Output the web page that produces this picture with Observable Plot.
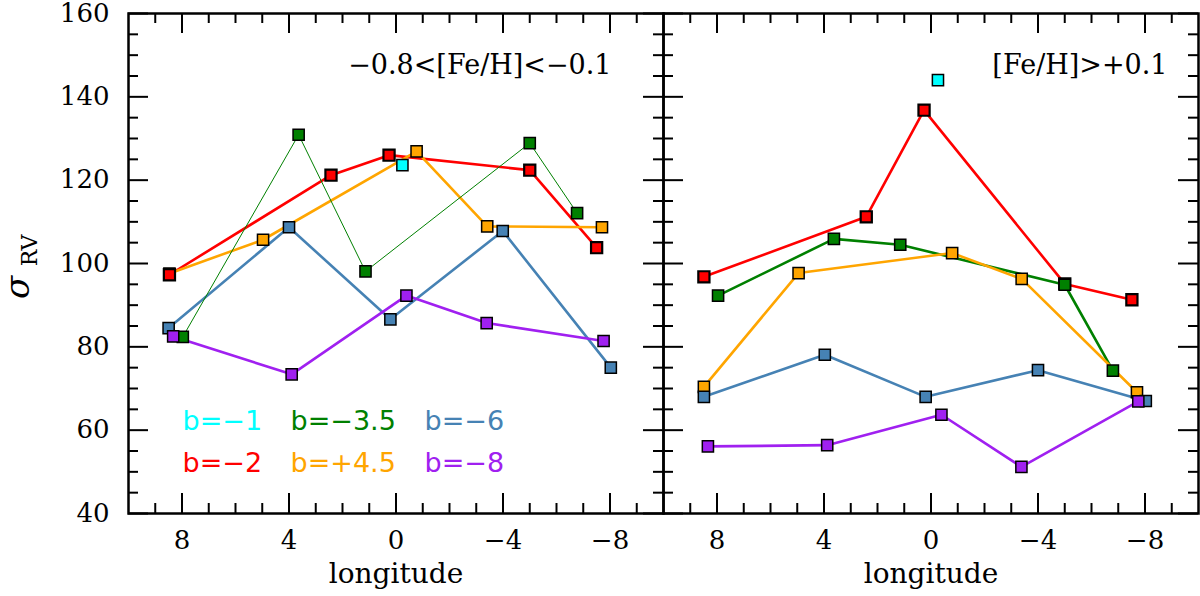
<!DOCTYPE html>
<html>
<head>
<meta charset="utf-8">
<script src="https://cdn.jsdelivr.net/npm/d3@7"></script>
<script src="https://cdn.jsdelivr.net/npm/@observablehq/plot@0.6"></script>
<style>
  body { margin: 0; background: #fff; }
</style>
</head>
<body>
<div id="chart"></div>
<script>
// Two metallicity bins, one panel each (left: metal-poor, right: metal-rich).
const panels = ["−0.8<[Fe/H]<−0.1", "[Fe/H]>+0.1"];

// Latitude fields, with their colours.
const seriesNames = ["b=−1", "b=−2", "b=−3.5", "b=+4.5", "b=−6", "b=−8"];
const seriesColors = ["#00ffff", "#ff0000", "#008000", "#ffa500", "#4682b4", "#a020f0"];

// [longitude, sigma_RV].
const poorB1 = [[-0.24, 123.6]];
const poorB2 = [[8.47, 97.3], [2.43, 121.2], [0.26, 126.0], [-5.0, 122.4], [-7.5, 103.8]];
const poorB35 = [[7.97, 82.4], [3.64, 130.9], [1.14, 98.1], [-5.0, 128.9], [-6.77, 112.1]];
const poorB45 = [[8.47, 97.6], [4.97, 105.7], [-0.77, 126.9], [-3.41, 108.9], [-7.7, 108.7]];
const poorB6 = [[8.5, 84.5], [4.0, 108.7], [0.21, 86.6], [-3.99, 107.8], [-8.03, 75.0]];
const poorB8 = [[8.33, 82.5], [3.9, 73.4], [-0.39, 92.3], [-3.39, 85.7], [-7.76, 81.4]];

const richB1 = [[-0.26, 144.0]];
const richB2 = [[8.49, 96.8], [2.42, 111.2], [0.26, 136.8], [-5.0, 95.1], [-7.51, 91.3]];
const richB35 = [[7.96, 92.3], [3.63, 105.9], [1.15, 104.5], [-5.0, 94.9], [-6.8, 74.3]];
const richB45 = [[8.49, 70.4], [4.95, 97.7], [-0.79, 102.5], [-3.39, 96.3], [-7.7, 69.1]];
const richB6 = [[8.49, 68.0], [3.97, 78.1], [0.2, 68.0], [-4.0, 74.4], [-8.03, 67.0]];
const richB8 = [[8.34, 56.1], [3.88, 56.4], [-0.39, 63.7], [-3.38, 51.2], [-7.75, 66.9]];

const xTicks = [8, 4, 0, -4, -8];
const yTicks = [40, 60, 80, 100, 120, 140, 160];

// Long-format rows for Plot.
const rows = [];
function add(panel, name, pts) {
  pts.forEach(function (p) { rows.push({ panel: panel, series: name, l: p[0], s: p[1] }); });
}
[poorB1, poorB2, poorB35, poorB45, poorB6, poorB8].forEach(function (pts, i) { add(panels[0], seriesNames[i], pts); });
[richB1, richB2, richB35, richB45, richB6, richB8].forEach(function (pts, i) { add(panels[1], seriesNames[i], pts); });

// Frame geometry (px)
const W = 1200, H = 596, mL = 128, mR = 2, mT = 13, mB = 83;
const innerW = (W - mL - mR) / 2;
const innerH = H - mT - mB;
const majLen = 20, minLen = 10;

const xMinor = d3.range(-9, 10).filter(function (v) { return v % 4 !== 0; });
const yMinor = d3.range(45, 160, 5).filter(function (v) { return v % 20 !== 0; });

// Inward ticks on all four sides of each panel.
function tickMarks(vals, len) {
  return [
    Plot.ruleX(vals, { insetBottom: innerH - len, stroke: "black", strokeWidth: 2 }),
    Plot.ruleX(vals, { insetTop: innerH - len, stroke: "black", strokeWidth: 2 }),
  ];
}
function yTickMarks(vals, len) {
  return [
    Plot.ruleY(vals, { insetRight: innerW - len, stroke: "black", strokeWidth: 2 }),
    Plot.ruleY(vals, { insetLeft: innerW - len, stroke: "black", strokeWidth: 2 }),
  ];
}

const green = seriesNames[2];
const cyan = seriesNames[0];

const marks = [
  ...tickMarks(xTicks, majLen),
  ...tickMarks(xMinor, minLen),
  ...yTickMarks(yTicks, majLen),
  ...yTickMarks(yMinor, minLen),
  Plot.frame({ stroke: "black", strokeWidth: 2.5 }),
  // connecting lines (thin green in the metal-poor panel)
  Plot.line(rows, {
    filter: function (d) { return d.series !== cyan && !(d.panel === panels[0] && d.series === green); },
    fx: "panel", x: "l", y: "s", z: "series", stroke: "series", strokeWidth: 2.6,
  }),
  Plot.line(rows, {
    filter: function (d) { return d.panel === panels[0] && d.series === green; },
    fx: "panel", x: "l", y: "s", stroke: "series", strokeWidth: 1,
  }),
];

// Squares, drawn in the overlap order seen in the figure.
["b=+4.5", "b=−2", "b=−3.5", "b=−6", "b=−8", "b=−1"].forEach(function (name) {
  marks.push(Plot.dot(rows, {
    filter: function (d) { return d.series === name; },
    fx: "panel", x: "l", y: "s", symbol: "square", r: 6.3,
    fill: "series", stroke: "black", strokeWidth: name === "b=−2" ? 2.2 : 1.5,
  }));
});

// Axes
marks.push(
  Plot.axisX({ ticks: xTicks, tickSize: 0, tickPadding: 17, label: null, fontSize: 26 }),
  Plot.axisY({ ticks: yTicks, tickSize: 0, tickPadding: 19, label: null, fontSize: 26 }),
  Plot.text(panels, {
    fx: function (d) { return d; }, text: function () { return "longitude"; },
    frameAnchor: "bottom", dy: 61, lineAnchor: "middle", fontSize: 28, letterSpacing: 2,
  }),
  // y label: sigma with subscript RV
  Plot.text([panels[0]], {
    fx: function (d) { return d; }, text: function () { return "σ"; },
    frameAnchor: "left", dx: -110, dy: 24, rotate: -90, fontStyle: "italic", fontSize: 34,
    lineAnchor: "middle", textAnchor: "middle",
  }),
  Plot.text([panels[0]], {
    fx: function (d) { return d; }, text: function () { return "RV"; },
    frameAnchor: "left", dx: -99, dy: -13, rotate: -90, fontSize: 22,
    lineAnchor: "middle", textAnchor: "middle",
  }),
  // panel annotations
  Plot.text([panels[0]], {
    fx: function (d) { return d; }, text: function (d) { return d; },
    frameAnchor: "top-right", dx: -52, dy: 52, textAnchor: "end", lineAnchor: "middle", fontSize: 27,
  }),
  Plot.text([panels[1]], {
    fx: function (d) { return d; }, text: function (d) { return d; },
    frameAnchor: "top-right", dx: -31, dy: 52, textAnchor: "end", lineAnchor: "middle", fontSize: 27,
  })
);

// In-panel legend, 3 columns x 2 rows
const legendGrid = [["b=−1", "b=−3.5", "b=−6"], ["b=−2", "b=+4.5", "b=−8"]];
const colDx = [54, 162, 296];
const rowDy = [-92, -50];
legendGrid.forEach(function (row, ri) {
  row.forEach(function (name, ci) {
    marks.push(Plot.text([panels[0]], {
      fx: function (d) { return d; }, text: function () { return name; },
      frameAnchor: "bottom-left", dx: colDx[ci], dy: rowDy[ri],
      textAnchor: "start", lineAnchor: "middle",
      fill: seriesColors[seriesNames.indexOf(name)],
      fontFamily: "DejaVu Sans", fontSize: 27,
    }));
  });
});

const svg = Plot.plot({
  width: W,
  height: H,
  marginLeft: mL,
  marginRight: mR,
  marginTop: mT,
  marginBottom: mB,
  style: {
    background: "white",
    color: "black",
    fontFamily: "DejaVu Serif",
    fontSize: "26px",
    overflow: "visible",
  },
  fx: { domain: panels, padding: 0, axis: null, label: null },
  x: { domain: [10, -10] },
  y: { domain: [40, 160] },
  color: { domain: seriesNames, range: seriesColors },
  marks: marks,
});

document.getElementById("chart").appendChild(svg);
</script>
</body>
</html>
